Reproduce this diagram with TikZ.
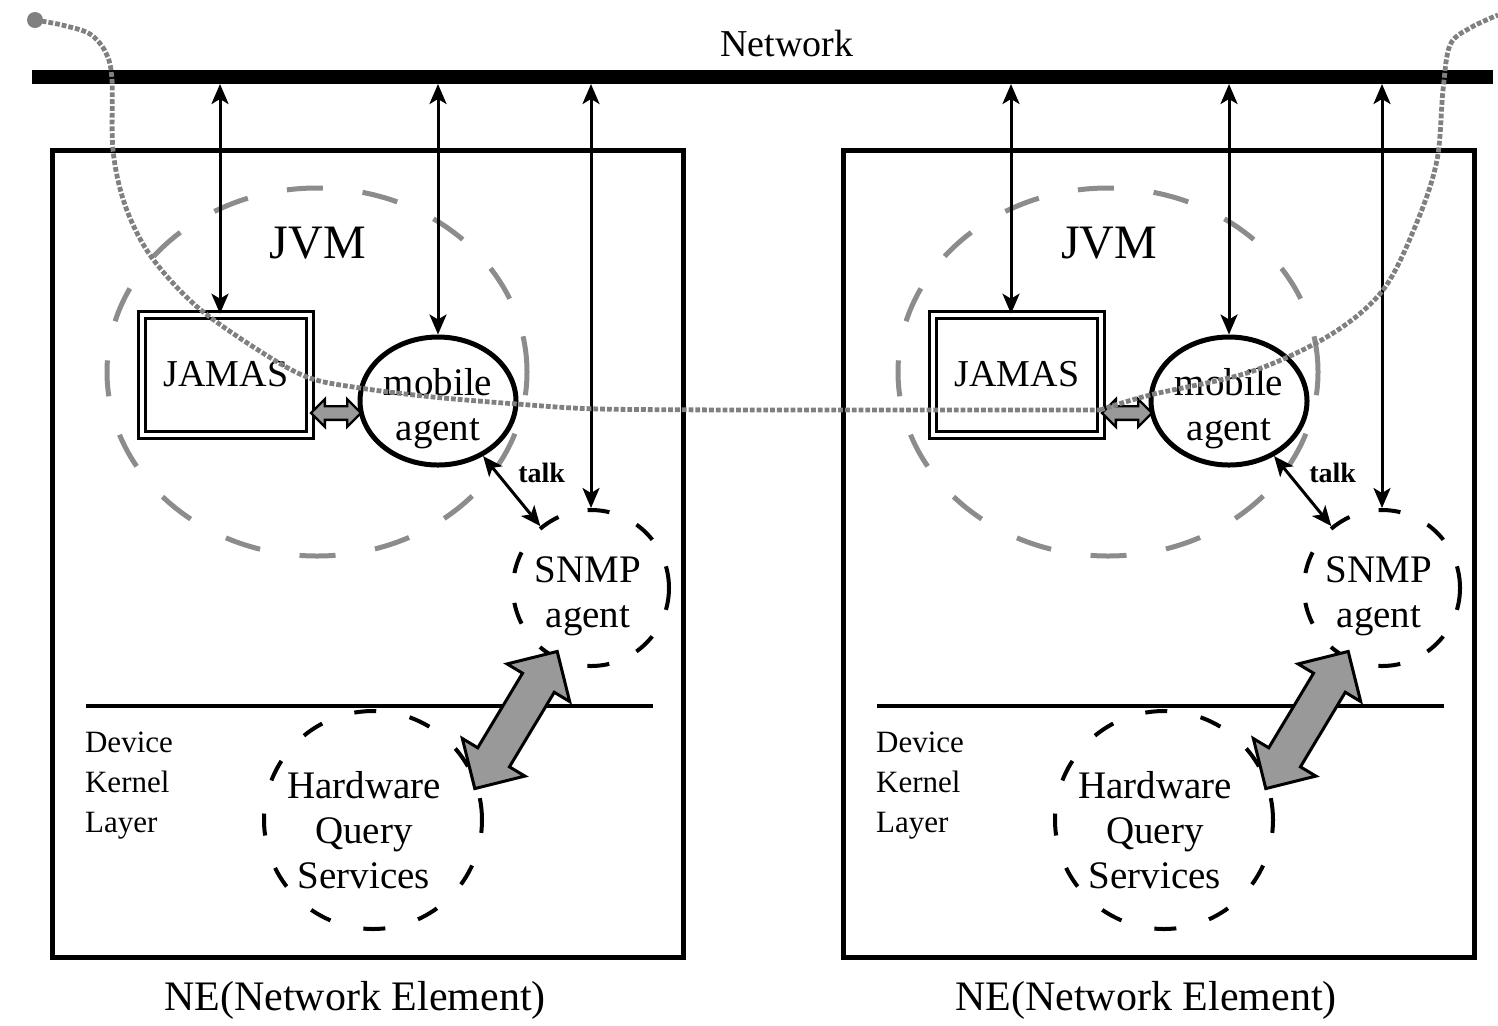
\documentclass[tikz,border=0pt]{standalone}
\usepackage{fontspec}
\setmainfont{Liberation Serif}
\usetikzlibrary{shapes.geometric,shapes.arrows,arrows.meta,calc}
\begin{document}
\begin{tikzpicture}[x=0.5pt,y=-0.5pt,
  >={Stealth[length=10pt,width=8.5pt,inset=2.5pt]},
  nebox/.style={draw,line width=2.5pt,minimum width=315.5pt,minimum height=403.5pt,inner sep=0pt},
  netarrow/.style={line width=1.5pt,<->},
  jvmring/.style={ellipse,draw=black!45,line width=2.5pt,dash pattern=on 18pt off 20pt,inner sep=0pt},
  jamasbox/.style={draw,double,double distance=2.2pt,line width=1.3pt,minimum width=84pt,minimum height=60pt,inner sep=0pt,font=\fontsize{19}{22}\selectfont},
  agentell/.style={ellipse,draw,line width=2.5pt,minimum width=78pt,minimum height=64pt,inner sep=0pt},
  dashcirc/.style={circle,draw,line width=2pt,dash pattern=on 11pt off 15pt,inner sep=0pt},
  intext/.style={inner sep=0pt,align=center,font=\fontsize{19.5}{22.5}\selectfont},
  blockarrow/.style={double arrow,draw,fill=black!40,inner xsep=0pt},
  curveline/.style={draw=black!50,line width=2.4pt,densely dotted},
  lbl/.style={inner sep=0pt}
]
\useasboundingbox (0,0) rectangle (1498,1025);

% network
\coordinate (netL) at (32,77);
\coordinate (netR) at (1493,77);
\coordinate (netb) at (0,84);
\draw[line width=7pt] (netL) -- (netR);
\node[lbl,font=\fontsize{19}{22}\selectfont] (nettext) at (787,43) {Network};

\foreach \p/\dx in {L/0,R/791}{
\begin{scope}[xshift=\dx*0.5pt]
  \node[nebox] (\p-box) at (367.5,553.5) {};
  \node[lbl,font=\fontsize{21}{24}\selectfont] (\p-ne) at (355,1000) {NE(Network Element)};
  \node[jvmring,minimum width=210pt,minimum height=184pt] (\p-jvm) at (317,372) {};
  \node[lbl,font=\fontsize{24}{26}\selectfont] (\p-jvmtext) at (318,243) {JVM};
  \node[jamasbox] (\p-jamas) at (226,375) {\raisebox{1.5pt}{JAMAS}};
  \node[agentell] (\p-agent) at (438,401) {};
  \node[intext] (\p-agenttext) at (438,409) {mobile\\agent};
  \node[dashcirc,minimum size=78pt] (\p-snmp) at (591,588) {};
  \node[intext] (\p-snmptext) at (588,596) {SNMP\\agent};
  \node[dashcirc,minimum size=109pt,dash pattern=on 11pt off 17pt] (\p-hqs) at (373,820) {};
  \node[intext] (\p-hqstext) at (364,830) {Hardware\\Query\\Services};
  \coordinate (\p-divL) at (86,706);
  \coordinate (\p-divR) at (653,706);
  \draw[line width=2pt] (\p-divL) -- (\p-divR);
  \node[lbl,align=left,font=\fontsize{15.5}{20}\selectfont] (\p-dkl) at (129,786) {Device\\Kernel\\Layer};
  % connectors
  \draw[netarrow] (\p-jamas.north -| 220,0) -- (220,84);
  \draw[netarrow] (\p-agent.north) -- (\p-agent.north |- netb);
  \draw[netarrow] (\p-snmp.north) -- (\p-snmp.north |- netb);
  \draw[netarrow] (\p-agent) -- node[lbl,pos=0.24,right=10pt,font=\bfseries\fontsize{14}{16}\selectfont] (\p-talk) {talk} (\p-snmp);
  \node[blockarrow,line width=1.2pt,minimum height=25pt,inner ysep=2.8pt,double arrow head extend=3.5pt] (\p-link) at (336,413) {};
  \node[blockarrow,line width=1.5pt,minimum height=80pt,inner ysep=8.5pt,double arrow head extend=9pt,rotate=59] (\p-big) at (516,720) {};
\end{scope}
}

% migrating agent path
\fill[black!50] (35,20) circle [radius=8];
\draw[curveline] plot[smooth,tension=0.55] coordinates {(35,20) (62,25) (90,34) (106,53) (112,80) (113,150) (125,205) (150,255) (195,305) (255,348) (307,377) (360,388) (433,397) (517,404) (600,409) (760,410)}
  -- (1100,410)
  plot[smooth,tension=0.55] coordinates {(1100,410) (1150,395) (1250,372) (1330,335) (1383,290) (1417,222) (1437,160) (1443,90) (1450,45) (1470,28) (1498,15)};
\end{tikzpicture}
\end{document}
